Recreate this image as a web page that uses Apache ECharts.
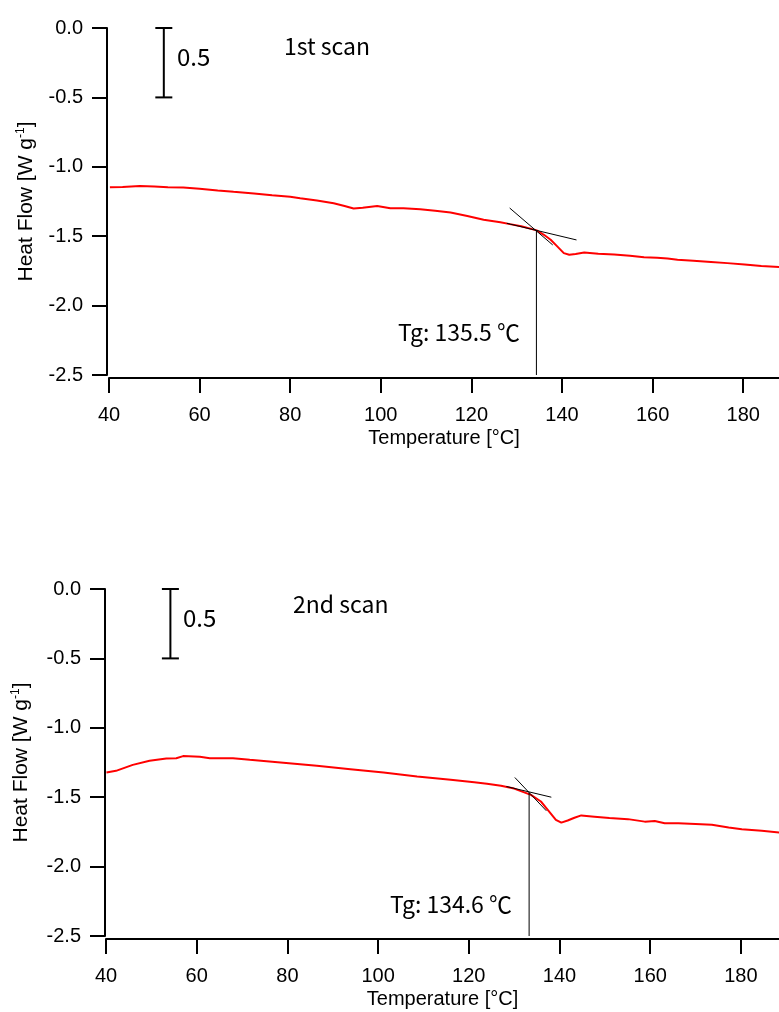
<!DOCTYPE html>
<html>
<head>
<meta charset="utf-8">
<script src="https://cdn.jsdelivr.net/npm/echarts@6/dist/echarts.min.js"></script>
<style>
  html, body { margin: 0; padding: 0; background: #fff; }
  #chart { width: 779px; height: 1012px; }
</style>
</head>
<body>
<div id="chart"></div>
<script>
// 1st scan (temperature, heat flow)
const scan1Temp = [40.2, 43, 46.8, 50, 53, 56.4, 60, 64, 67.5, 72, 76, 80, 82.2, 85.9, 89.6, 92, 94.0, 96, 99.2, 102.1,
  105.0, 108.7, 112, 115.4, 119.1, 122.7, 126.4, 128.5, 131, 134.4, 136, 137.5, 139, 140.4, 141.6, 143, 144.9, 148,
  151.5, 155, 158.1, 161, 163.3, 165.5, 169, 172.9, 176.5, 180.3, 184, 188.1]
const scan1Flow = [-1.147, -1.145, -1.138, -1.142, -1.148, -1.150, -1.158, -1.170, -1.180, -1.192, -1.205, -1.215,
  -1.226, -1.243, -1.262, -1.282, -1.301, -1.295, -1.282, -1.298, -1.298, -1.305, -1.316, -1.330, -1.354, -1.382,
  -1.399, -1.413, -1.428, -1.458, -1.490, -1.526, -1.575, -1.622, -1.634, -1.628, -1.618, -1.626, -1.632, -1.640,
  -1.651, -1.655, -1.661, -1.670, -1.676, -1.685, -1.694, -1.704, -1.714, -1.723]

// 2nd scan
const scan2Temp = [40.1, 42.2, 45.9, 49.6, 53.3, 55.5, 57.0, 60.7, 62.9, 68.0, 71.7, 79.1, 86.5, 93.9, 101.2, 108.6,
  116.0, 121.2, 124, 127.1, 130, 133.7, 135.9, 137.5, 139.2, 140.4, 141.8, 143.3, 144.8, 147.7, 151, 155.1, 158.8,
  161.0, 163.2, 166.2, 170, 173.6, 177.3, 180.2, 184.6, 188.8]
const scan2Flow = [-1.322, -1.310, -1.267, -1.238, -1.221, -1.219, -1.204, -1.209, -1.219, -1.219, -1.231, -1.252,
  -1.274, -1.298, -1.322, -1.351, -1.375, -1.392, -1.403, -1.418, -1.438, -1.483, -1.531, -1.595, -1.663, -1.683,
  -1.668, -1.648, -1.631, -1.640, -1.650, -1.658, -1.676, -1.671, -1.687, -1.687, -1.693, -1.699, -1.719, -1.731,
  -1.741, -1.755]

// tangent construction for Tg
const tg1Onset = [[128.45, -1.297], [137.95, -1.563]]
const tg1Base = [[127.8, -1.407], [143.2, -1.527]]
const tg1Drop = [[134.35, -1.46], [134.35, -2.5]]
const tg2Onset = [[130.15, -1.358], [137.1, -1.598]]
const tg2Base = [[128.3, -1.423], [138.2, -1.500]]
const tg2Drop = [[133.3, -1.467], [133.3, -2.5]]

// scale bars (0.5 W/g)
const bar1 = [[52.1, 0], [52.1, -0.5]]
const bar2 = [[54.2, 0], [54.2, -0.5]]

const xTicks = [40, 60, 80, 100, 120, 140, 160, 180]
const yTicks = [0, -0.5, -1.0, -1.5, -2.0, -2.5]

const tickFont = 'Liberation Sans, Arial, sans-serif'
const noteFont = '"Noto Sans CJK JP", "Noto Sans", sans-serif'

function zip(xs, ys) {
  return xs.map((x, i) => [x, ys[i]])
}

function xAxisFor(idx, max) {
  return {
    type: 'value',
    gridIndex: idx,
    position: 'bottom',
    min: 40,
    max: max,
    offset: 3,
    name: 'Temperature [°C]',
    nameLocation: 'middle',
    nameGap: 50,
    nameTextStyle: { color: '#000', fontSize: 20, fontFamily: tickFont },
    splitLine: { show: false },
    axisLine: { onZero: false, lineStyle: { color: '#000', width: 2 } },
    axisTick: { length: 15, lineStyle: { color: '#000', width: 2 }, customValues: xTicks },
    axisLabel: { color: '#000', fontSize: 20, fontFamily: tickFont, margin: 27, customValues: xTicks }
  }
}

function yAxisFor(idx, offset, gap) {
  return {
    type: 'value',
    gridIndex: idx,
    position: 'left',
    min: -2.5,
    max: 0,
    offset: offset,
    name: 'Heat Flow [W g{sup|-1}]',
    nameLocation: 'middle',
    nameGap: gap,
    nameRotate: 90,
    nameTextStyle: {
      color: '#000', fontSize: 21, fontFamily: tickFont, lineHeight: 23,
      rich: { sup: { fontSize: 12, fontFamily: tickFont, verticalAlign: 'top', lineHeight: 12 } }
    },
    splitLine: { show: false },
    axisLine: { onZero: false, lineStyle: { color: '#000', width: 2 } },
    axisTick: { length: 15, lineStyle: { color: '#000', width: 2 }, customValues: yTicks },
    axisLabel: {
      color: '#000', fontSize: 20, fontFamily: tickFont, margin: 24, customValues: yTicks,
      formatter: v => v.toFixed(1)
    }
  }
}

function curve(idx, data) {
  return {
    type: 'line', xAxisIndex: idx, yAxisIndex: idx, data: data,
    showSymbol: false, lineStyle: { color: '#ff0000', width: 2 }, z: 2, silent: true
  }
}

function thin(idx, data) {
  return {
    type: 'line', xAxisIndex: idx, yAxisIndex: idx, data: data,
    showSymbol: false, lineStyle: { color: '#000', width: 1 }, z: 3, silent: true
  }
}

function scaleBar(idx, data) {
  return {
    type: 'line', xAxisIndex: idx, yAxisIndex: idx, data: data,
    symbol: 'rect', symbolSize: [17, 2], showSymbol: true,
    itemStyle: { color: '#000' },
    lineStyle: { color: '#000', width: 2 }, z: 3, silent: true
  }
}

function note(x, y, text, size) {
  return {
    type: 'text', x: x, y: y,
    style: { text: text, fontSize: size, fontFamily: noteFont, fill: '#000', verticalAlign: 'middle' }
  }
}

const chart = echarts.init(document.getElementById('chart'))
chart.setOption({
  animation: false,
  backgroundColor: '#fff',
  grid: [
    { left: 109, top: 28, width: 670, height: 347 },
    { left: 106, top: 589, width: 673, height: 347 }
  ],
  xAxis: [xAxisFor(0, 187.9), xAxisFor(1, 188.4)],
  yAxis: [yAxisFor(0, 2, 67), yAxisFor(1, 1, 72)],
  series: [
    curve(0, zip(scan1Temp, scan1Flow)),
    thin(0, tg1Onset),
    thin(0, tg1Base),
    thin(0, tg1Drop),
    scaleBar(0, bar1),
    curve(1, zip(scan2Temp, scan2Flow)),
    thin(1, tg2Onset),
    thin(1, tg2Base),
    thin(1, tg2Drop),
    scaleBar(1, bar2)
  ],
  graphic: [
    note(177, 57, '0.5', 24),
    note(284, 46, '1st scan', 23),
    note(398, 332, 'Tg: 135.5 ℃', 23),
    note(183, 618, '0.5', 24),
    note(293, 604, '2nd scan', 23),
    note(390, 904, 'Tg: 134.6 ℃', 23)
  ]
})
</script>
</body>
</html>
